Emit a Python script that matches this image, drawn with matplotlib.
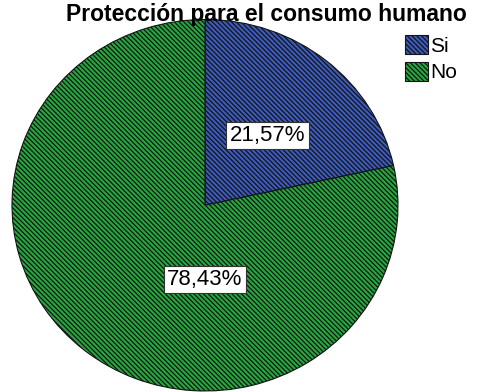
import matplotlib
matplotlib.use("Agg")
import matplotlib.pyplot as plt

plt.rcParams['font.family'] = ['Liberation Sans', 'DejaVu Sans']
plt.rcParams['hatch.linewidth'] = 0.9

title = "Protección para el consumo humano"
categories = ["Si", "No"]
values = [21.57, 78.43]
label_texts = ["21,57%", "78,43%"]

colors = ['#3c5bbd', '#26a83e']
hatch_color = '#141414'

fig = plt.figure(figsize=(4.82, 3.92), dpi=100)
ax = fig.add_axes([0.0249, 0.0026, 0.8008, 0.9477])

wedges, _ = ax.pie(values, colors=colors, startangle=90, counterclock=False,
                   wedgeprops=dict(edgecolor=hatch_color, linewidth=0.8))
for w in wedges:
    w.set_hatch('\\' * 7)
ax.set_aspect('auto')
ax.set_xlim(-1, 1)
ax.set_ylim(-1, 1)

label_pos = [(0.324, 0.376), (0.0, -0.40)]
for (x, y), t in zip(label_pos, label_texts):
    ax.text(x, y, t, ha='center', va='center', fontsize=16,
            bbox=dict(boxstyle='square,pad=0.15', facecolor='white',
                      edgecolor='#333333', linewidth=0.8))

fig.text(0.552, 0.962, title, ha='center', va='center', fontsize=16.5,
         fontweight='bold')

leg = fig.legend(wedges, categories, loc='upper left',
                 bbox_to_anchor=(0.84, 0.91), frameon=False, fontsize=15,
                 handlelength=1.1, handleheight=1.0, handletextpad=0.1,
                 labelspacing=0.3, borderaxespad=0, borderpad=0)

fig.savefig('out.png', dpi=100)
